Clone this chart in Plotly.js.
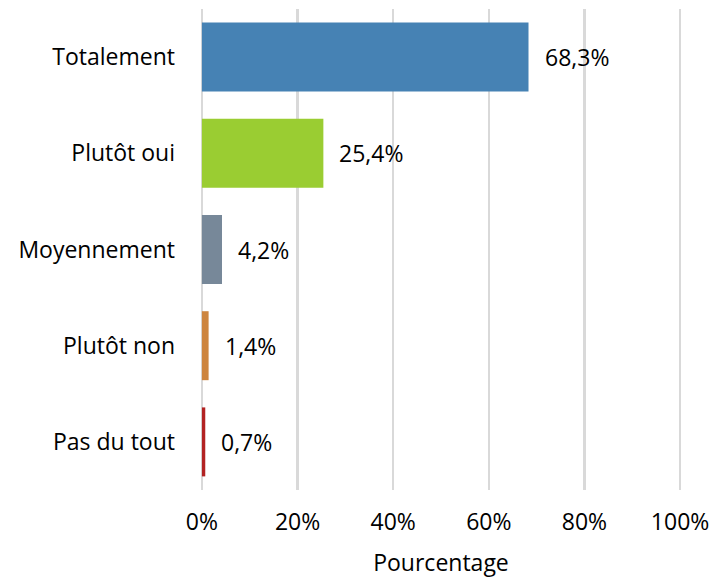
<!DOCTYPE html>
<html><head><meta charset="utf-8">
<script src="https://cdn.plot.ly/plotly-3.0.1.min.js"></script>
<style>html,body{margin:0;padding:0;background:#fff}#c{width:712px;height:578px}</style>
</head><body><div id="c"></div>
<script>
const categories = ["Totalement", "Plutôt oui", "Moyennement", "Plutôt non", "Pas du tout"];
const values = [68.3, 25.4, 4.2, 1.4, 0.7];
const labels = ["68,3%", "25,4%", "4,2%", "1,4%", "0,7%"];
const colors = ["#4682B4", "#9ACD32", "#778899", "#CD853F", "#B22222"];
const tickVals = [0, 20, 40, 60, 80, 100];
const tickText = ["0%", "20%", "40%", "60%", "80%", "100%"];

const font = "Open Sans, Noto Sans, sans-serif";
const fs = 23;
const trace = {
  type: "bar", orientation: "h",
  y: categories, x: values,
  marker: {color: colors},
  hoverinfo: "none"
};
const annotations = categories.map((c, i) => ({
  x: values[i], y: c, text: labels[i], showarrow: false,
  xanchor: "left", yanchor: "middle", xshift: 14,
  font: {family: font, size: fs, color: "#000"}
}));
const layout = {
  width: 712, height: 578,
  margin: {l: 200, r: 30, t: 9, b: 88},
  paper_bgcolor: "#fff", plot_bgcolor: "#fff",
  showlegend: false, bargap: 0.283,
  font: {family: font, size: fs, color: "#000"},
  xaxis: {
    range: [-0.4, 100.4], tickvals: tickVals, ticktext: tickText,
    showgrid: true, gridcolor: "#d9d9d9", gridwidth: 2.5,
    zeroline: false, showline: false, ticks: "",
    ticklabelstandoff: 16,
    tickfont: {family: font, size: fs, color: "#000"},
    title: {text: "Pourcentage", font: {family: font, size: fs, color: "#000"}, standoff: 18},
    fixedrange: true
  },
  yaxis: {
    autorange: "reversed", showgrid: false, zeroline: false, showline: false,
    ticks: "", ticklabelstandoff: 24,
    tickfont: {family: font, size: fs, color: "#000"},
    fixedrange: true
  },
  annotations: annotations
};
Plotly.newPlot("c", [trace], layout, {displayModeBar: false, staticPlot: true});
</script></body></html>
